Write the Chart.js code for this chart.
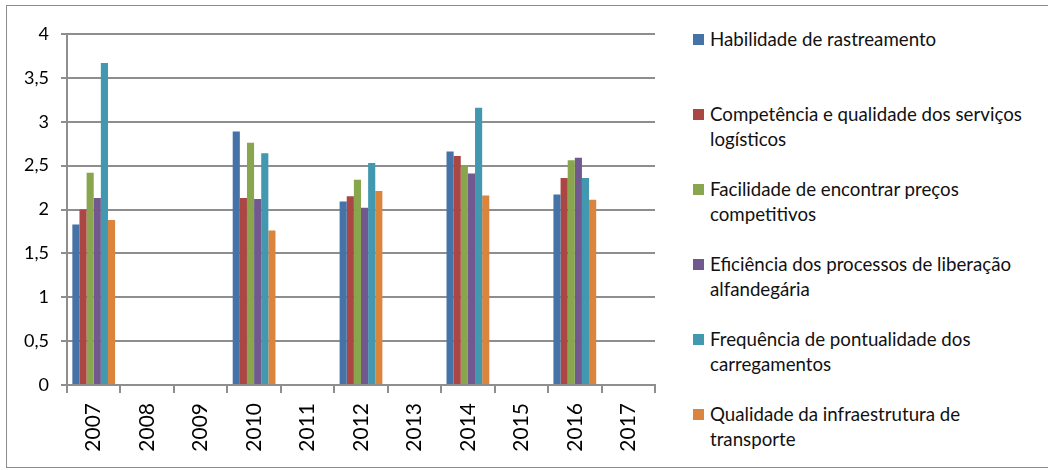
<!DOCTYPE html>
<html>
<head>
<meta charset="utf-8">
<script src="https://cdn.jsdelivr.net/npm/chart.js@4"></script>
<style>
  body { margin: 0; background: #fff; font-family: Lato, sans-serif; }
  #frame { position: absolute; left: 6px; top: 5px; width: 1100px; height: 461px; border: 1.5px solid #8c8c8c; }
  #wrap { position: absolute; left: 0; top: 0; width: 670px; height: 470px; }
  #legend { position: absolute; left: 693px; top: 27px; width: 340px; font-size: 18.7px; color: #111; }
  .item { position: relative; height: 75px; padding-left: 17px; line-height: 25px; }
  .box { position: absolute; left: 0; top: 7px; width: 11px; height: 11px; }
</style>
</head>
<body>
<div id="frame"></div>
<div id="wrap"><canvas id="chart"></canvas></div>
<div id="legend"></div>
<script>
const years = ['2007', '2008', '2009', '2010', '2011', '2012', '2013', '2014', '2015', '2016', '2017'];
const yTicks = [0, 0.5, 1, 1.5, 2, 2.5, 3, 3.5, 4];

const seriesNames = [
  'Habilidade de rastreamento',
  'Competência e qualidade dos serviços logísticos',
  'Facilidade de encontrar preços competitivos',
  'Eficiência dos processos de liberação alfandegária',
  'Frequência de pontualidade dos carregamentos',
  'Qualidade da infraestrutura de transporte'
];
const seriesColors = ['#4572A7', '#AA4643', '#89A54E', '#71588F', '#4198AF', '#DB843D'];

// one value per year, null where there was no survey
const rastreamento = [1.83, null, null, 2.89, null, 2.09, null, 2.66, null, 2.17, null];
const competencia  = [2.00, null, null, 2.13, null, 2.15, null, 2.61, null, 2.36, null];
const precos       = [2.42, null, null, 2.76, null, 2.34, null, 2.50, null, 2.56, null];
const alfandega    = [2.13, null, null, 2.12, null, 2.02, null, 2.41, null, 2.59, null];
const pontualidade = [3.67, null, null, 2.64, null, 2.53, null, 3.16, null, 2.36, null];
const infra        = [1.88, null, null, 1.76, null, 2.21, null, 2.16, null, 2.11, null];

const allValues = [rastreamento, competencia, precos, alfandega, pontualidade, infra];

const gridColor = '#8e8e8e';

new Chart(document.getElementById('chart'), {
  type: 'bar',
  data: {
    labels: years,
    datasets: allValues.map((vals, i) => ({
      label: seriesNames[i],
      data: vals,
      backgroundColor: seriesColors[i],
      borderWidth: 0,
      categoryPercentage: 0.8,
      barPercentage: 1
    }))
  },
  options: {
    responsive: true,
    maintainAspectRatio: false,
    animation: false,
    layout: { padding: { top: 34, right: 15, bottom: 0, left: 0 } },
    plugins: { legend: { display: false }, tooltip: { enabled: false } },
    scales: {
      x: {
        afterFit: s => { s.height = 85; },
        grid: { offset: true, drawOnChartArea: false, drawTicks: true, tickLength: 8, color: gridColor, lineWidth: 2 },
        border: { color: gridColor, width: 2 },
        ticks: { minRotation: 90, maxRotation: 90, padding: 10, color: '#000', font: { family: 'Lato', size: 21 } }
      },
      y: {
        min: 0,
        max: 4,
        afterFit: s => { s.width = 67; },
        afterBuildTicks: s => { s.ticks = yTicks.map(v => ({ value: v })); },
        grid: { color: gridColor, lineWidth: 2, tickLength: 6 },
        border: { color: gridColor, width: 2 },
        ticks: {
          padding: 12,
          color: '#000',
          font: { family: 'Lato', size: 18 },
          callback: v => String(v).replace('.', ',')
        }
      }
    }
  }
});

const legend = document.getElementById('legend');
seriesNames.forEach((name, i) => {
  const item = document.createElement('div');
  item.className = 'item';
  item.innerHTML = '<span class="box" style="background:' + seriesColors[i] + '"></span>' + name;
  legend.appendChild(item);
});
</script>
</body>
</html>
